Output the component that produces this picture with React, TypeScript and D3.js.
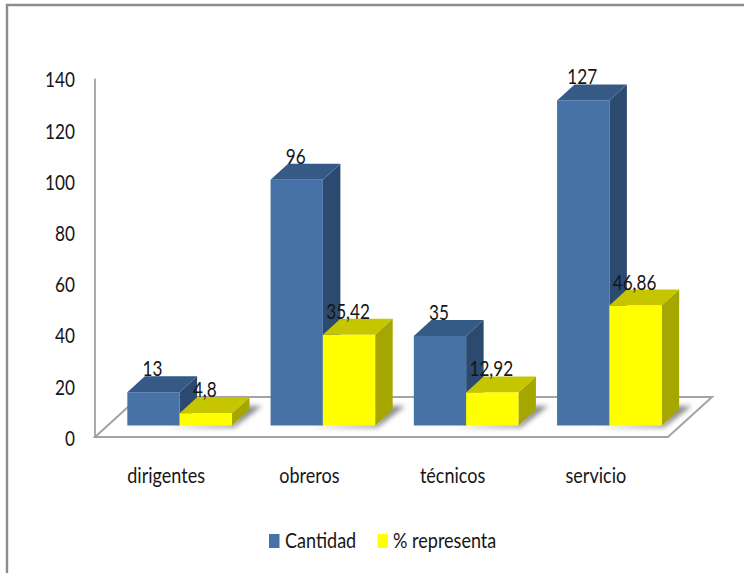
import React from "react";
import * as d3 from "d3";

// Personnel by category: head count and share of the total
const categories = ["dirigentes", "obreros", "técnicos", "servicio"];
const cantidad = [13, 96, 35, 127];
const representa = [4.8, 35.42, 12.92, 46.86];
const yTicks = [0, 20, 40, 60, 80, 100, 120, 140];
const legendNames = ["Cantidad", "% representa"];

const W = 744;
const H = 573;
const FONT = "Lato, 'Open Sans', sans-serif";
const INK = "#161616";
const AXIS = "#a3a3a3";

const blue = { front: "#4672a8", top: "#355a85", side: "#2c4970" };
const yellow = { front: "#ffff00", top: "#c6c600", side: "#a6a600" };

// Oblique projection offsets for the bar depth
const DX = 17.5;
const DY = -16;
// Bars stand forward of the floor's front edge
const BASE_LIFT = 11.5;
const GROUP_SHIFT = 13;
const BAR_W = 52.3;

const y = d3.scaleLinear().domain([0, 140]).range([437, 78.6]);
const x = d3.scaleBand<string>().domain(categories).range([95, 668]);
const base = y(0) - BASE_LIFT;

const pts = (p: [number, number][]) => p.map((q) => q.join(",")).join(" ");

// Horizontally condensed label, anchored at (px, py)
function Label({ px, py, size = 22, anchor = "middle", sx = 0.78, children }: any) {
  return (
    <text
      transform={`translate(${px},${py}) scale(${sx},1)`}
      textAnchor={anchor}
      fontFamily={FONT}
      fontSize={size}
      fill={INK}
    >
      {children}
    </text>
  );
}

function Bar({ x0, value, c }: { x0: number; value: number; c: typeof blue }) {
  const t = y(value) - BASE_LIFT;
  const x1 = x0 + BAR_W;
  return (
    <g>
      <polygon
        points={pts([[x1, base], [x1 + DX, base + DY], [x1 + DX, t + DY], [x1, t]])}
        fill={c.side}
      />
      <polygon
        points={pts([[x0, t], [x0 + DX, t + DY], [x1 + DX, t + DY], [x1, t]])}
        fill={c.top}
      />
      <rect x={x0} y={t} width={BAR_W} height={base - t} fill={c.front} />
    </g>
  );
}

export default function App() {
  const comma = (v: number) => String(v).replace(".", ",");
  const groupLeft = (cat: string) => (x(cat) as number) + x.bandwidth() / 2 + GROUP_SHIFT - BAR_W;

  return (
    <svg
      width={W}
      height={H}
      viewBox={`0 0 ${W} ${H}`}
      style={{ position: "absolute", left: 0, top: 0, display: "block", background: "#fff" }}
    >
      <defs>
        <filter id="floorShadow" x="-30%" y="-50%" width="160%" height="200%">
          <feGaussianBlur stdDeviation="2.6" />
        </filter>
      </defs>

      {/* Outer frame: top and left edges only */}
      <path d={`M7,${H} V5 H${W}`} fill="none" stroke="#8c8c8c" strokeWidth={2.4} />

      {/* Floor and vertical axis */}
      <polygon
        points={pts([[95, 437], [139, 397], [712, 397], [668, 437]])}
        fill="#fff"
        stroke={AXIS}
        strokeWidth={2}
      />
      <line x1={95} x2={95} y1={y(140)} y2={y(0)} stroke="#969696" strokeWidth={1.6} />

      {/* Tick labels */}
      {yTicks.map((t) => (
        <Label key={t} px={75} py={y(t) + 8.8} anchor="end" size={21.5} sx={0.8}>
          {t}
        </Label>
      ))}

      {/* Soft shadows on the floor */}
      {categories.map((cat) => {
        const x0 = groupLeft(cat);
        const x1 = x0 + 2 * BAR_W;
        return (
          <polygon
            key={cat}
            filter="url(#floorShadow)"
            fill="#8a8a8a"
            points={pts([[x0 + 40, 427.5], [x1 + 2, 427.5], [x1 + 30, 406], [x1 + DX - 2, 406], [x1, 424]])}
          />
        );
      })}

      {/* Paired bars */}
      {categories.map((cat, i) => {
        const x0 = groupLeft(cat);
        return (
          <g key={cat}>
            <Bar x0={x0} value={cantidad[i]} c={blue} />
            <Bar x0={x0 + BAR_W} value={representa[i]} c={yellow} />
          </g>
        );
      })}

      {/* Value labels */}
      {categories.map((cat, i) => {
        const x0 = groupLeft(cat);
        return (
          <g key={cat}>
            <Label px={x0 + BAR_W / 2 - 1} py={y(cantidad[i]) - BASE_LIFT + DY}>
              {comma(cantidad[i])}
            </Label>
            <Label px={x0 + BAR_W * 1.5 - 1} py={y(representa[i]) - BASE_LIFT + DY}>
              {comma(representa[i])}
            </Label>
          </g>
        );
      })}

      {/* Category labels */}
      {categories.map((cat) => (
        <Label key={cat} px={(x(cat) as number) + x.bandwidth() / 2 - 0.5} py={482.5} size={21} sx={0.86}>
          {cat}
        </Label>
      ))}

      {/* Legend */}
      <rect x={269} y={534} width={10.5} height={14} fill={blue.front} />
      <Label px={285} py={547.5} anchor="start" size={20.5} sx={0.88}>
        {legendNames[0]}
      </Label>
      <rect x={377.5} y={534} width={10.5} height={14} fill={yellow.front} />
      <Label px={393} py={547.5} anchor="start" size={20.5} sx={0.88}>
        {legendNames[1]}
      </Label>
    </svg>
  );
}
